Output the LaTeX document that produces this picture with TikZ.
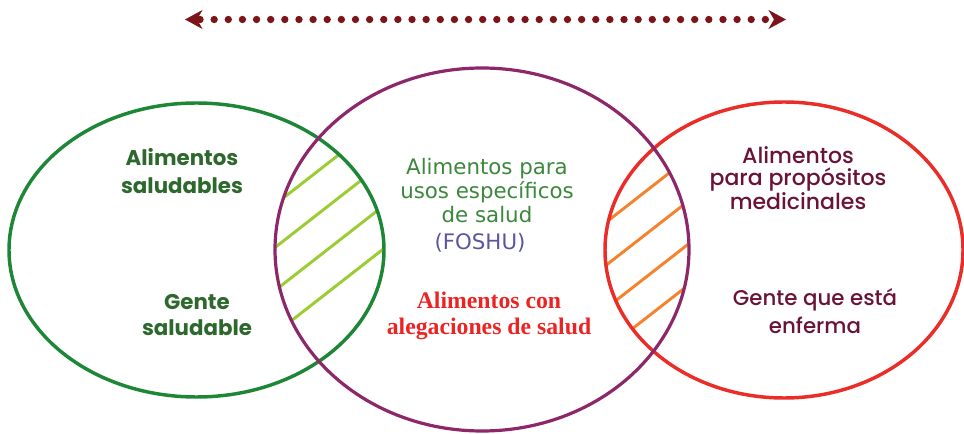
\documentclass[tikz,border=0pt]{standalone}
\usepackage{fontspec}
\setmainfont{Poppins}
\newfontfamily\poppinsmed{Poppins Medium}
\newfontfamily\verdanalike{DejaVu Sans}
\newfontfamily\timeslike{Liberation Serif}
\usetikzlibrary{arrows.meta}

\tikzset{every picture/.style={line width=0.75pt}}
\tikzset{
  hatch/.style={line width=2.2},
  rotulo/.style={align=center, inner sep=0pt},
}

\begin{document}
\begin{tikzpicture}[x=0.75pt,y=0.75pt,yscale=-1,xscale=1]
	\path[use as bounding box] (0,0) rectangle (964,434);

	%Hatch: left lens
	\begin{scope}
	\clip (196.5,250) ellipse (187.5 and 147);
	\clip (482,249.5) ellipse (207 and 181.5);
	\foreach \c in {419,462,505,548}
		\draw [hatch, color={rgb, 255:red, 155; green, 205; blue, 50 }] (260,{\c-202.8}) -- (400,{\c-312});
	\end{scope}
	%Hatch: right lens
	\begin{scope}
	\clip (784,250) ellipse (179 and 148);
	\clip (482,249.5) ellipse (207 and 181.5);
	\foreach \c in {695,738,781,822}
		\draw [hatch, color={rgb, 255:red, 245; green, 130; blue, 45 }] (590,{\c-460.2}) -- (700,{\c-546});
	\end{scope}

	%Shape: Ellipse
	\draw [color={rgb, 255:red, 30; green, 135; blue, 55 }, line width=2.6] (196.5,250) ellipse (187.5 and 147);
	%Shape: Ellipse
	\draw [color={rgb, 255:red, 235; green, 45; blue, 40 }, line width=2.6] (784,250) ellipse (179 and 148);
	%Shape: Ellipse
	\draw [color={rgb, 255:red, 140; green, 40; blue, 105 }, line width=2.4] (482,249.5) ellipse (207 and 181.5);

	%Dotted double arrow
	\coordinate (flechaIzq) at (185,19.5);
	\coordinate (flechaDer) at (786,19.5);
	\draw [color={rgb, 255:red, 125; green, 20; blue, 25 }, line width=5.5, line cap=round, dash pattern=on 0pt off 10.6pt, dash phase=-3pt,
		{Stealth[length=13pt, width=14pt, inset=4pt]}-{Stealth[length=13pt, width=14pt, inset=4pt]}] (flechaIzq) -- (flechaDer);

	% Text Node
	\node [rotulo, font=\fontsize{16}{21}\selectfont\bfseries, color={rgb, 255:red, 45; green, 105; blue, 45 }] (alimSal) at (182,171) {Alimentos\\saludables};
	% Text Node
	\node [rotulo, font=\fontsize{16}{19.5}\selectfont\bfseries, color={rgb, 255:red, 45; green, 105; blue, 45 }] (genteSal) at (197,315) {Gente\\saludable};
	% Text Node
	\node [rotulo, font=\verdanalike\fontsize{16}{18}\selectfont, color={rgb, 255:red, 60; green, 135; blue, 60 }] (usosSalud) at (487,191) {Alimentos para\\usos específicos\\de salud};
	% Text Node
	\node [rotulo, font=\verdanalike\fontsize{16}{18}\selectfont, color={rgb, 255:red, 90; green, 85; blue, 160 }] (foshu) at (480,243) {(FOSHU)};
	% Text Node
	\node [rotulo, font=\timeslike\fontsize{17.8}{19}\selectfont\bfseries, color={rgb, 255:red, 235; green, 35; blue, 35 }] (alegaciones) at (489,316) {Alimentos con\\alegaciones de salud};
	% Text Node
	\node [rotulo, font=\poppinsmed\fontsize{16.5}{17}\selectfont, color={rgb, 255:red, 105; green, 20; blue, 55 }] (alimMedic) at (798,178) {Alimentos\\para propósitos\\medicinales};
	% Text Node
	\node [rotulo, font=\poppinsmed\fontsize{16}{21}\selectfont, color={rgb, 255:red, 105; green, 20; blue, 55 }] (genteEnf) at (815,311) {Gente que está\\enferma};

\end{tikzpicture}
\end{document}
